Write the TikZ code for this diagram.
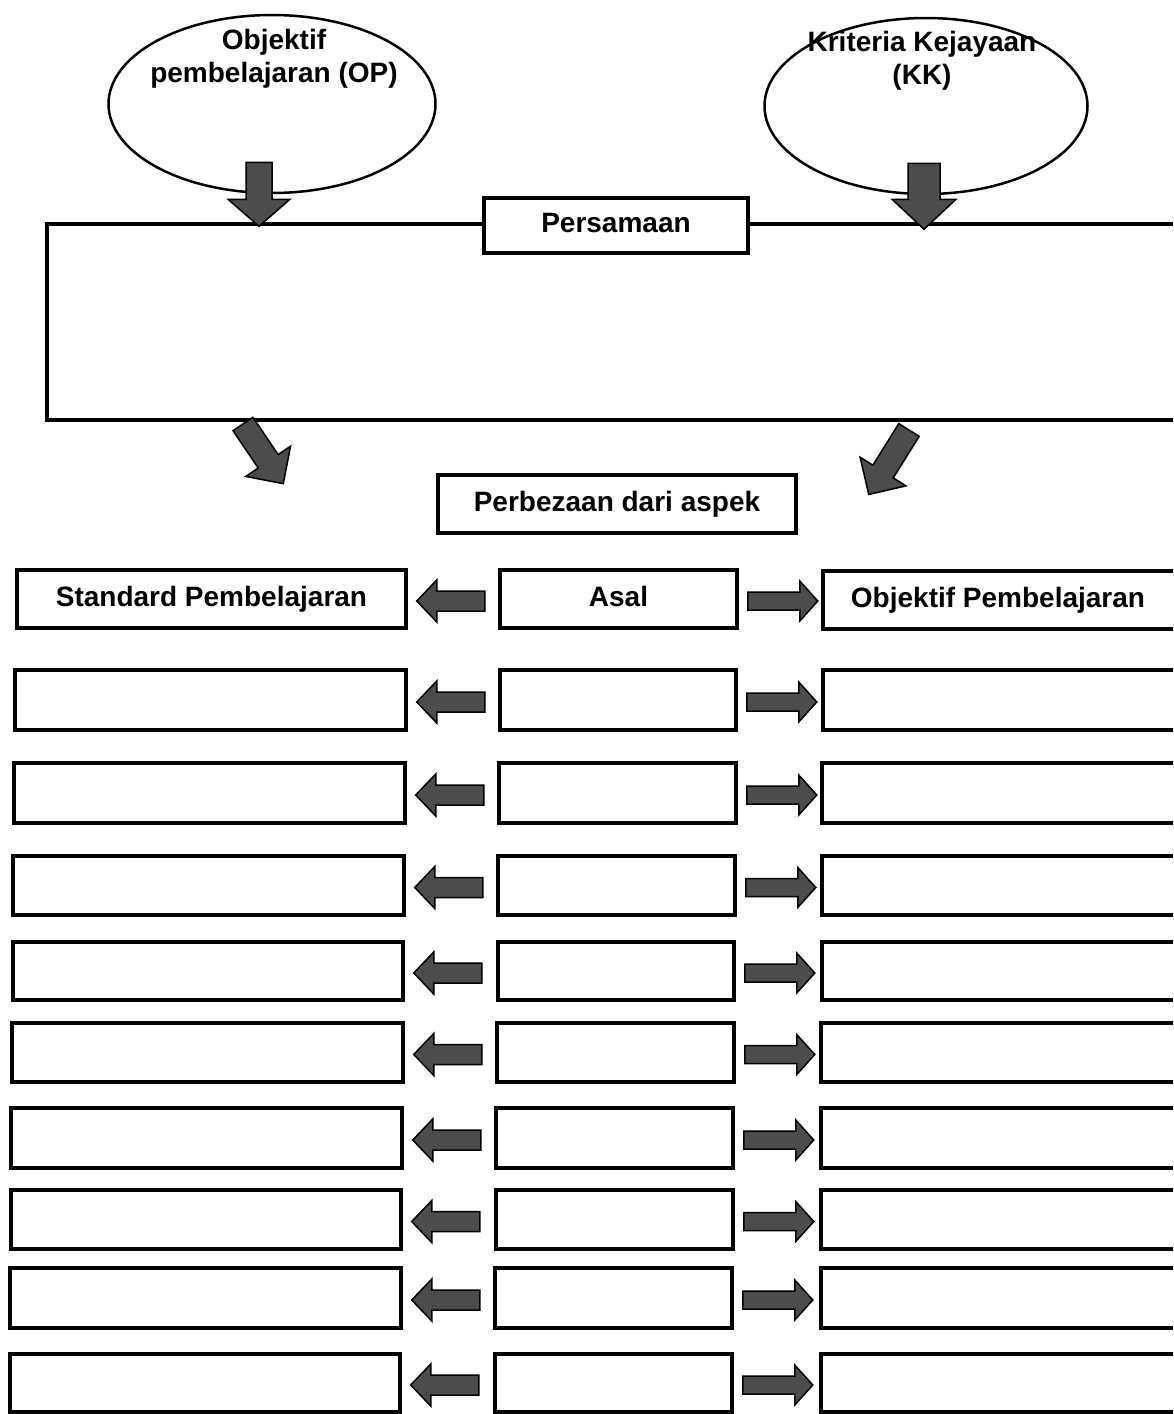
\documentclass[tikz,border=0pt]{standalone}
\usepackage{fontspec}
\setmainfont{Liberation Sans}
\usetikzlibrary{shapes.geometric,fit,calc}
\newcommand\bigfont{\fontsize{28}{33}\selectfont\bfseries}
\tikzset{
 frame/.style={line width=3.5pt, line join=miter},
 boxs/.style={draw, line width=3.5pt, inner sep=0pt},
 openbox/.style={inner sep=0pt},
 lbl/.style={font=\bigfont, inner sep=0pt, align=center},
 boxlbl/.style={font=\bigfont, inner sep=0pt, text height=20pt, text depth=6pt},
 oval/.style={draw, ellipse, line width=2.5pt, inner sep=0pt},
 arrowfill/.style={fill=black!70, draw=black, line width=1.5pt, line join=miter},
 pics/barrow/.style args={#1/#2/#3/#4}{code={\filldraw[arrowfill] (0,-#2) -- ({#1-#4},-#2) -- ({#1-#4},-#3) -- (#1,0) -- ({#1-#4},#3) -- ({#1-#4},#2) -- (0,#2) -- cycle;}}
}
\begin{document}
\begin{tikzpicture}[x=1pt,y=-1pt]
\useasboundingbox (0,0) rectangle (1173,1414);
% ellipses
\node[oval, minimum width=327, minimum height=178] (op) at (272,104) {};
\node[oval, minimum width=323, minimum height=176] (kk) at (926,106) {};
\node[lbl] (optxt) at (274,59) {Objektif\\pembelajaran (OP)};
\node[lbl] (kktxt) at (922,61) {Kriteria Kejayaan\\(KK)};
% big similarity frame
\node[openbox, fit={(47,224) (1173,420)}] (sim) {};
\draw[frame] (sim.north east) -- (sim.north west) -- (sim.south west) -- (sim.south east);
\node[boxs, fill=white, fit={(484,198) (748,253)}, label={[boxlbl]center:Persamaan}] (pers) {};
% down arrows
\pic[rotate=-90] at ($(op.south)+(-13,-32)$) {barrow=64/13/31/27};
\pic[rotate=-90] at ($(kk.south)+(-2,-32)$) {barrow=66/16/32/30};
% diagonal arrows
\pic[rotate=-56] at (243,424) {barrow=72/12/27/27};
\pic[rotate=-122] at (909,430) {barrow=76/12/27/27};
% perbezaan
\node[boxs, fit={(438,475) (796,533)}, label={[boxlbl]center:Perbezaan dari aspek}] (perb) {};
% row 1
\node[boxs, fit={(17,570) (406,628)}, label={[boxlbl]center:Standard Pembelajaran}] (L1) {};
\node[boxs, fit={(500,570) (737,628)}, label={[boxlbl]center:Asal}] (M1) {};
\node[openbox, fit={(823,571) (1173,629)}, label={[boxlbl]center:Objektif Pembelajaran}] (R1) {};
\draw[frame] (R1.north east) -- (R1.north west) -- (R1.south west) -- (R1.south east);
\pic[rotate=180] at ($(L1.east)+(77,2)$) {barrow=68/10/21/20};
\pic at ($(M1.east)+(9,2)$) {barrow=70/9/20/18};
% rows 2-10
\foreach \i/\yt/\yb/\la/\lb/\ma/\mb/\ra in {
 2/670/730/15/406/500/736/823,
 3/763/823/14/405/499/736/822,
 4/856/915/13/404/498/735/822,
 5/942/1000/13/403/498/734/822,
 6/1023/1082/12/403/497/734/821,
 7/1108/1168/11/402/496/733/821,
 8/1190/1249/11/401/496/733/821,
 9/1268/1328/10/401/495/732/821,
 10/1354/1412/10/400/495/732/821}{
 \node[boxs, fit={(\la,\yt) (\lb,\yb)}] (L\i) {};
 \node[boxs, fit={(\ma,\yt) (\mb,\yb)}] (M\i) {};
 \node[openbox, fit={(\ra,\yt) (1173,\yb)}] (R\i) {};
 \draw[frame] (R\i.north east) -- (R\i.north west) -- (R\i.south west) -- (R\i.south east);
 \pic[rotate=180] at ($(L\i.east)+(77,2)$) {barrow=68/10/21/20};
 \pic at ($(M\i.east)+(9,2)$) {barrow=70/9/20/18};
}
\end{tikzpicture}
\end{document}
